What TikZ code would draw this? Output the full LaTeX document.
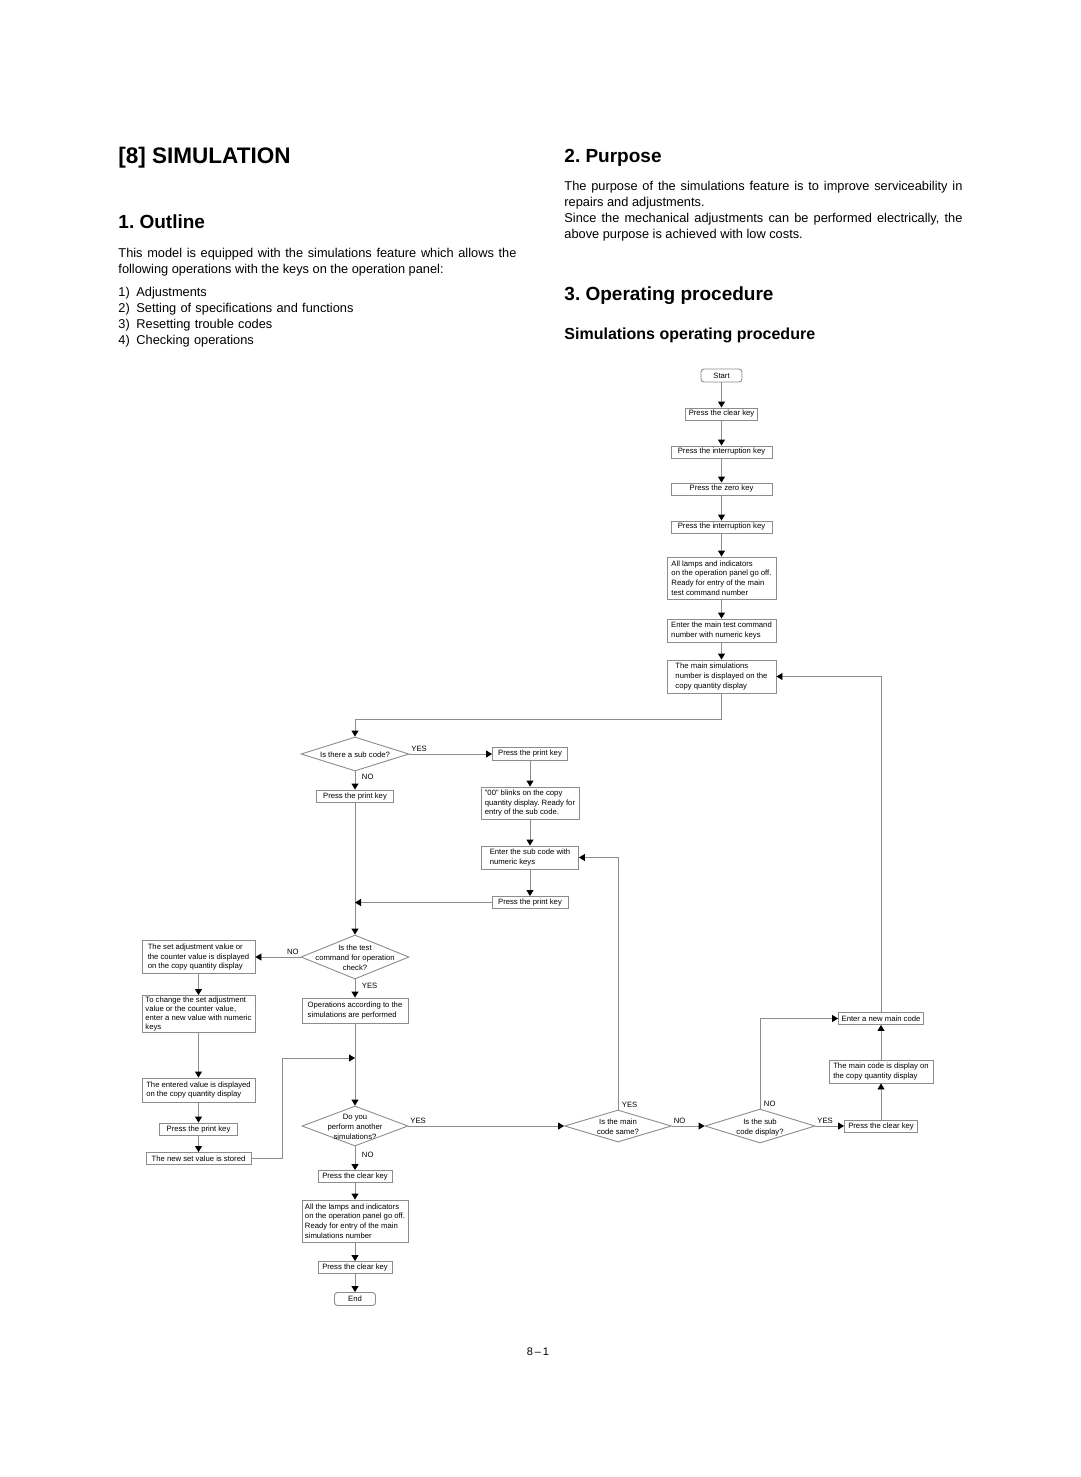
\documentclass[tikz,border=0pt]{standalone}
\usepackage{fontspec}
\setmainfont{Liberation Sans}
\usepackage{tikz}
\usetikzlibrary{arrows.meta,positioning,shapes.geometric}
\frenchspacing

\newcommand{\dtxt}[1]{\smash{\makebox[0pt]{\raisebox{-3.5pt}{\begin{tabular}{@{}c@{}}#1\end{tabular}}}}}

\begin{document}
\begin{tikzpicture}[->,x=1pt,y=-1pt,on grid,node distance=38pt,line width=0.9pt,color=black!45,
      >={Triangle[length=6pt,width=7pt,color=black]},
      every node/.style={text=black,font=\fontsize{7.7}{9.8}\selectfont},
      proc/.style={draw,rectangle,inner sep=1pt,align=left,minimum height=12pt},
      term/.style={draw,rectangle,rounded corners=3pt,inner sep=1pt,minimum width=41pt,minimum height=13pt},
      dec/.style={draw,diamond,inner sep=0pt,minimum width=108pt,minimum height=34pt},
      yn/.style={inner sep=1.5pt},
      head/.style={anchor=base west,inner sep=0pt,font=\fontsize{19}{23}\selectfont\bfseries},
      body/.style={anchor=base west,inner sep=0pt,text width=398pt,font=\fontsize{12.8}{16}\selectfont}]
	\fill[white,-] (0,0) rectangle (1080,1477);
	\useasboundingbox (0,0) rectangle (1080,1477);
	\node[head,font=\fontsize{22.5}{27}\selectfont\bfseries] (ttl) at (118,164) {[8] SIMULATION};
	\node[head] (hout) at (118,228) {1. Outline};
	\node[body,align=justify] (pout) at (118,257.5) {This model is equipped with the simulations feature which allows the\linebreak following operations with the keys on the operation panel:};
	\node[body,align=left] (lout) at (118,296.5) {\makebox[18pt][l]{1)}Adjustments\\\makebox[18pt][l]{2)}Setting of specifications and functions\\\makebox[18pt][l]{3)}Resetting trouble codes\\\makebox[18pt][l]{4)}Checking operations};
	\node[head] (hpur) at (564,162) {2. Purpose};
	\node[body,align=justify] (ppur) at (564,190) {The purpose of the simulations feature is to improve serviceability in\linebreak repairs and adjustments.\par Since the mechanical adjustments can be performed electrically, the\linebreak above purpose is achieved with low costs.};
	\node[head] (hop) at (564,300) {3. Operating procedure};
	\node[head,font=\fontsize{16}{19}\selectfont\bfseries] (hsim) at (564,339) {Simulations operating procedure};
	\node[font=\fontsize{11}{13}\selectfont] (pg) at (538,1352) {8\,--\,1};

	\node[term] (start) at (721.5,375.5) {Start};
	\node[proc,minimum width=72pt] (clr1) [below=38.5pt of start] {Press the clear key};
	\node[proc,minimum width=101pt] (int1) [below=38pt of clr1] {Press the interruption key};
	\node[proc,minimum width=101pt] (zero) [below=37pt of int1] {Press the zero key};
	\node[proc,minimum width=101pt] (int2) [below=38pt of zero] {Press the interruption key};
	\node[proc,minimum width=109pt,minimum height=42pt] (lamps) [below=51pt of int2] {All lamps and indicators\\on the operation panel go off.\\Ready for entry of the main\\test command number};
	\node[proc,minimum width=109pt,minimum height=23pt] (entmain) [below=52.5pt of lamps] {Enter the main test command\\number with numeric keys};
	\node[proc,minimum width=109pt,minimum height=33pt] (mainsim) [below=46pt of entmain] {The main simulations\\number is displayed on the\\copy quantity display};

	\node[dec] (subq) at (355,754) {\dtxt{Is there a sub code?}};
	\node[proc,minimum width=77pt] (print0) at (355,796) {Press the print key};
	\node[dec,minimum height=44pt] (test) at (355,957) {\dtxt{Is the test\\command for operation\\check?}};
	\node[proc,minimum width=106pt,minimum height=25pt] (oper) at (355,1010.5) {Operations according to the\\simulations are performed};
	\coordinate (jn) at (355,1058);
	\node[dec,minimum width=106pt,minimum height=40pt] (another) at (355,1126) {\dtxt{Do you\\perform another\\simulations?}};
	\node[proc,minimum width=74pt] (clr2) [below=50.5pt of another] {Press the clear key};
	\node[proc,minimum width=106pt,minimum height=42pt] (lamps2) [below=44.5pt of clr2] {All the lamps and indicators\\on the operation panel go off.\\Ready for entry of the main\\simulations number};
	\node[proc,minimum width=74pt] (clr3) [below=46.5pt of lamps2] {Press the clear key};
	\node[term] (stop) [below=31.5pt of clr3] {End};

	\node[proc,minimum width=75pt,minimum height=13pt] (print1) at (530,754) {Press the print key};
	\node[proc,minimum width=98pt,minimum height=32pt] (blink) [below=49pt of print1] {"00" blinks on the copy\\quantity display. Ready for\\entry of the sub code.};
	\node[proc,minimum width=97pt,minimum height=23pt] (entsub) [below=54.5pt of blink] {Enter the sub code with\\numeric keys};
	\node[proc,minimum width=76pt] (print2) [below=45pt of entsub] {Press the print key};

	\node[proc,minimum width=113pt,minimum height=33pt] (setv) at (198.5,957) {The set adjustment value or\\the counter value is displayed\\on the copy quantity display};
	\node[proc,minimum width=113pt,minimum height=36pt,font=\fontsize{7.7}{9.3}\selectfont] (change) [below=57pt of setv] {To change the set adjustment\\value or the counter value,\\enter a new value with numeric\\keys};
	\node[proc,minimum width=113pt,minimum height=24pt] (entered) [below=76pt of change] {The entered value is displayed\\on the copy quantity display};
	\node[proc,minimum width=78pt] (print3) [below=39pt of entered] {Press the print key};
	\node[proc,minimum width=105pt] (stored) [below=29.5pt of print3] {The new set value is stored};
	\coordinate (bend) at (282,1058);

	\node[dec,minimum width=107pt,minimum height=32pt] (samemain) at (618,1126) {\dtxt{Is the main\\code same?}};
	\node[dec,minimum width=110pt] (subdisp) at (760,1126) {\dtxt{Is the sub\\code display?}};
	\node[proc,minimum width=73pt] (clr4) at (881,1126) {Press the clear key};
	\node[proc,minimum width=104pt,minimum height=23pt] (maindisp) [above=54.5pt of clr4] {The main code is display on\\the copy quantity display};
	\node[proc,minimum width=85pt] (newmain) [above=53pt of maindisp] {Enter a new main code};

	\path (start) edge (clr1)
		(clr1) edge (int1)
		(int1) edge (zero)
		(zero) edge (int2)
		(int2) edge (lamps)
		(lamps) edge (entmain)
		(entmain) edge (mainsim)
		(subq) edge node[yn,pos=0,above right] {YES} (print1)
		(subq) edge node[yn,pos=0.32,right=5pt] {NO} (print0)
		(print1) edge (blink)
		(blink) edge (entsub)
		(entsub) edge (print2)
		(print0) edge (test)
		(test) edge node[yn,pos=0,above left] {NO} (setv)
		(test) edge node[yn,pos=0.35,right=5pt] {YES} (oper)
		(setv) edge (change)
		(change) edge (entered)
		(entered) edge (print3)
		(print3) edge (stored)
		(oper) edge (another)
		(another) edge node[yn,pos=0,above right] {YES} (samemain)
		(another) edge node[yn,pos=0.37,right=5pt] {NO} (clr2)
		(clr2) edge (lamps2)
		(lamps2) edge (clr3)
		(clr3) edge (stop)
		(samemain) edge node[yn,pos=0,above right] {NO} (subdisp)
		(subdisp) edge node[yn,pos=0,above right] {YES} (clr4)
		(clr4) edge (maindisp)
		(maindisp) edge (newmain);
	\draw (mainsim.south) -- ++(0,26) -| (subq.north);
	\draw (print2) -- (print2 -| print0);
	\draw (stored.east) -| (bend) -- (jn);
	\draw (samemain.north) node[yn,above right,xshift=2pt] {YES} |- (entsub.east);
	\draw (subdisp.north) node[yn,above right,xshift=2pt] {NO} |- (newmain.west);
	\draw (newmain.north) |- (mainsim.east);
\end{tikzpicture}
\end{document}
